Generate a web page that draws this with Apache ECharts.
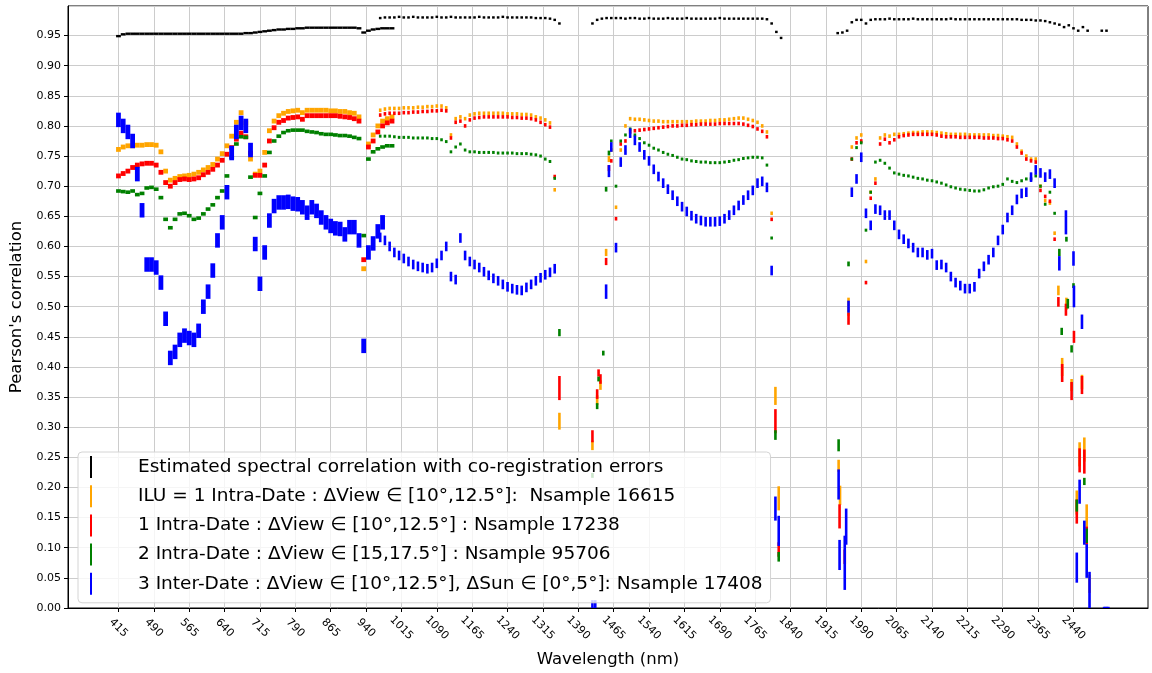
<!DOCTYPE html>
<html>
<head>
<meta charset="utf-8">
<title>Spectral correlation</title>
<script src="https://cdn.jsdelivr.net/npm/echarts@6/dist/echarts.min.js"></script>
<style>
  html, body { margin: 0; padding: 0; background: #fff; }
  #chart { width: 1152px; height: 673px; }
</style>
</head>
<body>
<div id="chart"></div>
<script>
// ---- data ------------------------------------------------------------
var seriesNames = [
  'Estimated spectral correlation with co-registration errors',
  'ILU = 1 Intra-Date : \u0394View \u2208 [10\u00b0,12.5\u00b0]:  Nsample 16615',
  '1 Intra-Date : \u0394View \u2208 [10\u00b0,12.5\u00b0] : Nsample 17238',
  '2 Intra-Date : \u0394View \u2208 [15,17.5\u00b0] : Nsample 95706',
  '3 Inter-Date : \u0394View \u2208 [10\u00b0,12.5\u00b0], \u0394Sun \u2208 [0\u00b0,5\u00b0]: Nsample 17408'
];
var xTicks = [415, 490, 565, 640, 715, 790, 865, 940, 1015, 1090, 1165, 1240, 1315, 1390,
  1465, 1540, 1615, 1690, 1765, 1840, 1915, 1990, 2065, 2140, 2215, 2290, 2365, 2440];

// VNIR detector: one value every 10 nm from 415 to 995 nm
var vnirStart = 415, vnirStep = 10;
var vnirBlack = [
  .949, .952, .953, .953, .953, .953, .953, .953, .953, .953,
  .953, .953, .953, .953, .953, .953, .953, .953, .953, .953,
  .953, .953, .953, .953, .953, .953, .953, .954, .954, .955,
  .956, .957, .958, .959, .960, .960, .961, .961, .962, .962,
  .963, .963, .963, .963, .963, .963, .963, .963, .963, .963,
  .963, .962, .955, .958, .960, .961, .962, .962, .962
];
var vnirOrange = [
  .761, .765, .767, .767, .768, .768, .769, .769, .768, .757,
  .725, .710, .713, .716, .717, .718, .720, .723, .727, .731,
  .736, .745, .754, .767, .783, .806, .822, .805, .745, .720,
  .725, .756, .792, .808, .817, .821, .824, .825, .826, .822,
  .826, .826, .826, .826, .826, .825, .825, .824, .824, .822,
  .821, .815, .563, .770, .785, .800, .808, .812, .815
];
var vnirRed = [
  .717, .721, .725, .731, .735, .737, .738, .738, .735, .723,
  .706, .700, .706, .711, .712, .711, .712, .714, .719, .723,
  .728, .735, .743, .753, .764, .778, .788, .782, .755, .718,
  .718, .735, .775, .797, .806, .809, .813, .814, .815, .811,
  .817, .817, .817, .817, .817, .817, .817, .816, .815, .814,
  .812, .808, .578, .765, .775, .790, .800, .805, .808
];
var vnirGreen = [
  .692, .691, .690, .692, .686, .688, .697, .698, .695, .681,
  .645, .631, .645, .654, .655, .651, .645, .647, .654, .662,
  .669, .681, .692, .717, .748, .770, .782, .781, .715, .648,
  .688, .717, .756, .775, .783, .789, .792, .793, .793, .793,
  .791, .790, .789, .787, .786, .786, .785, .784, .784, .783,
  .781, .779, .618, .745, .757, .762, .765, .767, .767
];
var vnirBlue = [
  .810, .800, .790, .775, .720, .660, .570, .570, .565, .540,
  .480, .415, .425, .445, .452, .448, .445, .460, .500, .525,
  .560, .610, .640, .690, .755, .790, .805, .800, .760, .604,
  .538, .590, .643, .667, .673, .673, .674, .671, .670, .665,
  .656, .665, .659, .648, .640, .634, .630, .629, .620, .632,
  .632, .610, .435, .590, .605, .625, .640, '-', '-'
];

// SWIR detector: one value every 10 nm from 970 to 2520 nm ('-' = no data)
var swirStart = 970, swirStep = 10;
var swirBlack = [
  /*  970 */ .979, .980, .980, .980, .981, .980, .980, .981, .980, .980,
  /* 1070 */ .980, .980, .981, .980, .980, .981, .980, .980, .980, .980,
  /* 1170 */ .980, .981, .980, .980, .980, .980, .981, .980, .980, .980,
  /* 1270 */ .980, .980, .980, .979, .979, .979, .978, .976, .970, '-',
  /* 1370 */ '-', '-', '-', '-', '-', .970, .976, .978, .979, .979,
  /* 1470 */ .979, .979, .978, .979, .979, .978, .978, .979, .978, .978,
  /* 1570 */ .978, .979, .978, .978, .978, .979, .978, .978, .978, .978,
  /* 1670 */ .978, .978, .979, .978, .978, .978, .978, .978, .978, .978,
  /* 1770 */ .978, .978, .977, .970, .956, .946, '-', '-', '-', '-',
  /* 1870 */ '-', '-', '-', '-', '-', '-', '-', .954, .955, .958,
  /* 1970 */ .972, .976, .976, .970, .976, .977, .977, .977, .978, .977,
  /* 2070 */ .977, .977, .977, .978, .977, .977, .977, .977, .977, .977,
  /* 2170 */ .977, .978, .977, .977, .977, .977, .977, .977, .977, .977,
  /* 2270 */ .977, .977, .977, .977, .977, .977, .976, .976, .976, .975,
  /* 2370 */ .975, .974, .972, .970, .968, .964, .967, .962, .958, .964,
  /* 2470 */ .958, '-', '-', .958, .958, '-'
];
var swirOrange = [
  /*  970 */ .826, .828, .829, .829, .829, .830, .830, .830, .831, .831,
  /* 1070 */ .832, .832, .833, .833, .830, .785, .812, .815, .812, .818,
  /* 1170 */ .820, .821, .821, .821, .821, .821, .821, .820, .820, .820,
  /* 1270 */ .819, .819, .818, .815, .813, .810, .805, .694, '-', '-',
  /* 1370 */ '-', '-', '-', '-', '-', '-', '-', '-', '-', .760,
  /* 1470 */ .665, .760, .800, .812, .811, .811, .810, .809, .808, .808,
  /* 1570 */ .807, .807, .807, .807, .807, .807, .807, .808, .808, .808,
  /* 1670 */ .809, .809, .810, .810, .811, .812, .813, .813, .811, .809,
  /* 1770 */ .806, .800, .790, .655, '-', '-', '-', '-', '-', '-',
  /* 1870 */ '-', '-', '-', '-', '-', '-', '-', '-', '-', '-',
  /* 1970 */ .765, .780, .785, .575, .690, .712, .780, .785, .783, .786,
  /* 2070 */ .786, .787, .788, .789, .789, .790, .790, .790, .789, .788,
  /* 2170 */ .787, .786, .786, .786, .786, .785, .785, .785, .785, .785,
  /* 2270 */ .784, .784, .783, .782, .781, .770, .758, .750, .745, .745,
  /* 2370 */ .700, .676, .672, .622, '-', '-', '-', '-', '-', '-',
  /* 2470 */ '-', '-', '-', '-', '-', '-'
];
var swirRed = [
  /*  970 */ .818, .820, .821, .821, .821, .822, .822, .823, .823, .824,
  /* 1070 */ .824, .825, .825, .826, .825, .780, .806, .808, .800, .810,
  /* 1170 */ .813, .814, .815, .815, .815, .815, .815, .815, .814, .814,
  /* 1270 */ .813, .813, .812, .810, .806, .802, .798, .716, '-', '-',
  /* 1370 */ '-', '-', '-', '-', '-', '-', '-', '-', '-', .742,
  /* 1470 */ .646, .770, .775, .790, .792, .793, .794, .795, .796, .797,
  /* 1570 */ .798, .799, .800, .800, .801, .801, .802, .802, .803, .803,
  /* 1670 */ .803, .803, .804, .804, .804, .804, .804, .803, .801, .799,
  /* 1770 */ .795, .791, .782, .645, '-', '-', '-', '-', '-', '-',
  /* 1870 */ '-', '-', '-', '-', '-', '-', '-', '-', '-', '-',
  /* 1970 */ .745, .772, .775, .540, .680, .705, .770, .778, .772, .777,
  /* 2070 */ .782, .784, .785, .786, .786, .786, .786, .786, .785, .783,
  /* 2170 */ .782, .782, .782, .781, .781, .781, .781, .781, .780, .780,
  /* 2270 */ .780, .779, .779, .777, .775, .765, .755, .745, .742, .740,
  /* 2370 */ .693, .683, .675, .612, '-', '-', '-', '-', '-', '-',
  /* 2470 */ '-', '-', '-', '-', '-', '-'
];
var swirGreen = [
  /*  970 */ .783, .783, .783, .782, .781, .781, .781, .780, .780, .780,
  /* 1070 */ .780, .779, .779, .777, .774, .757, .765, .770, .760, .757,
  /* 1170 */ .757, .756, .756, .756, .756, .755, .755, .755, .755, .754,
  /* 1270 */ .754, .754, .753, .752, .750, .745, .741, .713, '-', '-',
  /* 1370 */ '-', '-', '-', '-', '-', '-', '-', '-', '-', .775,
  /* 1470 */ .700, .775, .785, .795, .785, .779, .772, .768, .763, .760,
  /* 1570 */ .756, .753, .751, .748, .745, .744, .742, .741, .740, .740,
  /* 1670 */ .739, .739, .739, .740, .741, .743, .744, .746, .747, .748,
  /* 1770 */ .748, .747, .735, .614, '-', '-', '-', '-', '-', '-',
  /* 1870 */ '-', '-', '-', '-', '-', '-', '-', '-', '-', '-',
  /* 1970 */ .745, .764, .772, .627, .690, .740, .743, .738, .730, .722,
  /* 2070 */ .720, .718, .717, .715, .713, .712, .710, .709, .707, .705,
  /* 2170 */ .702, .699, .697, .695, .694, .693, .692, .692, .694, .697,
  /* 2270 */ .699, .700, .703, .712, .708, .706, .709, .712, .712, .717,
  /* 2370 */ .700, .670, .690, .655, '-', '-', '-', '-', '-', '-',
  /* 2470 */ '-', '-', '-', '-', '-', '-'
];
var swirBlue = [
  /*  970 */ .615, .610, .600, .590, .585, .580, .575, .570, .567, .565,
  /* 1070 */ .563, .565, .572, .585, .600, .550, .545, .614, .585, .575,
  /* 1170 */ .570, .565, .558, .552, .547, .543, .537, .533, .530, .528,
  /* 1270 */ .527, .532, .537, .543, .548, .553, .557, .563, '-', '-',
  /* 1370 */ '-', '-', '-', '-', '-', '-', '-', '-', '-', .765,
  /* 1470 */ .598, .740, .760, .788, .776, .765, .752, .742, .728, .716,
  /* 1570 */ .705, .695, .685, .675, .666, .658, .651, .646, .643, .641,
  /* 1670 */ .641, .641, .642, .646, .652, .660, .668, .677, .685, .693,
  /* 1770 */ .705, .708, .698, .560, '-', '-', '-', '-', '-', '-',
  /* 1870 */ '-', '-', '-', '-', '-', '-', '-', '-', '-', '-',
  /* 1970 */ .690, .712, .748, .655, .635, .662, .660, .652, .652, .635,
  /* 2070 */ .620, .612, .605, .598, .590, .590, .586, .588, .569, .570,
  /* 2170 */ .565, .550, .540, .535, .530, .530, .533, .555, .567, .578,
  /* 2270 */ .590, .610, .628, .648, .660, .678, .688, .690, .715, .727,
  /* 2370 */ .722, .715, .720, .705, '-', '-', '-', '-', '-', '-',
  /* 2470 */ '-', '-', '-', '-', '-', '-'
];

// half length of the error bars on the regular grids (black, orange, red, green, blue)
var vnirHalf = [0.0012, 0.004, 0.004, 0.003, 0.012];
var swirHalf = [0.0012, 0.003, 0.003, 0.0025, 0.008];

// scattered samples at the edges of the water bands: [nm, r, half bar]
var edgeOrange = [
  [1350, .310, .014], [1420, .270, .008], [1430, .345, .008], [1437, .370, .008], [1449, .590, .006], [1455, .745, .005],
  [1808, .352, .015], [1815, .182, .02],
  [1942, .236, .01], [1945, .187, .016], [1963, .500, .015],
  [2408, .527, .008], [2416, .400, .015], [2425, .505, .01], [2436, .370, .01], [2447, .175, .02], [2453, .255, .02],
  [2458, .375, .012], [2463, .263, .02], [2468, .152, .02], [2474, .040, .015]
];
var edgeRed = [
  [1350, .365, .02], [1420, .285, .01], [1430, .355, .008], [1433, .390, .006], [1437, .380, .008], [1449, .575, .006], [1455, .730, .005],
  [1808, .310, .02], [1815, .097, .012],
  [1944, .152, .02], [1955, .085, .012], [1963, .480, .01],
  [2408, .508, .008], [2416, .390, .015], [2424, .495, .01], [2436, .360, .015], [2441, .450, .01], [2447, .160, .02],
  [2453, .245, .02], [2458, .370, .015], [2463, .243, .02], [2468, .120, .015]
];
var edgeGreen = [
  [1350, .457, .006], [1420, .220, .004], [1430, .335, .005], [1433, .380, .004], [1443, .423, .004], [1449, .695, .004], [1455, .755, .004],
  [1808, .287, .008], [1815, .085, .008],
  [1942, .270, .01], [1963, .571, .004],
  [2410, .590, .006], [2415, .459, .006], [2425, .612, .004], [2428, .505, .008], [2436, .430, .006], [2440, .535, .004],
  [2447, .170, .01], [2463, .210, .006], [2468, .120, .012]
];
var edgeBlue = [
  [1420, .005, .008], [1426, .005, .008], [1449, .525, .012], [1455, .725, .01],
  [1808, .165, .02], [1815, .128, .025],
  [1942, .205, .025], [1944, .088, .025], [1955, .075, .045], [1958, .135, .03], [1963, .500, .01],
  [2410, .572, .012], [2424, .640, .02], [2440, .580, .012], [2441, .517, .018], [2447, .067, .025], [2453, .193, .02],
  [2458, .475, .012], [2463, .125, .02], [2468, .078, .028], [2474, .030, .03],
  [2505, 0, .0005], [2508, 0, .0005], [2511, 0, .0005], [2514, 0, .0005]
];

// ---- chart -----------------------------------------------------------
var FONT = "'DejaVu Sans', sans-serif";
var colors = ['#000000', '#ffa500', '#ff0000', '#008000', '#0000ff'];
var X_MIN = 308, X_MAX = 2598;

// rows of [nm, r, half, detector]  detector: 0 = VNIR, 1 = SWIR / edge
function grid(start, step, vals, half, det) {
  var out = [];
  vals.forEach(function (v, i) {
    if (v !== '-') out.push([start + i * step, v, half, det]);
  });
  return out;
}
function edges(list) {
  return list.map(function (p) { return [p[0], p[1], p[2], 1]; });
}

var vnir = [vnirBlack, vnirOrange, vnirRed, vnirGreen, vnirBlue];
var swir = [swirBlack, swirOrange, swirRed, swirGreen, swirBlue];
var edge = [[], edgeOrange, edgeRed, edgeGreen, edgeBlue];

function renderBar(params, api) {
  var nm = api.value(0), r = api.value(1), half = api.value(2);
  var w = api.value(3) === 0 ? 4.8 : 2.6;
  var top = api.coord([nm, r + half]);
  var bot = api.coord([nm, r - half]);
  var h = Math.max(bot[1] - top[1], 2.4);
  var cy = (top[1] + bot[1]) / 2;
  return {
    type: 'rect',
    shape: { x: top[0] - w / 2, y: cy - h / 2, width: w, height: h },
    style: { fill: api.visual('color') }
  };
}

var series = seriesNames.map(function (name, k) {
  var data = grid(vnirStart, vnirStep, vnir[k], vnirHalf[k], 0)
    .concat(grid(swirStart, swirStep, swir[k], swirHalf[k], 1))
    .concat(edges(edge[k]));
  return {
    name: name,
    type: 'custom',
    renderItem: renderBar,
    clip: true,
    itemStyle: { color: colors[k] },
    encode: { x: 0, y: 1 },
    data: data
  };
});

// an empty second grid only carries the vertical grid lines at 415 + 75k nm
// (340 .. 2441 nm, placed so that both grids share the same nm -> px scale)
var pxPerNm = 1080 / (X_MAX - X_MIN);
var grid2Left = 68 + (340 - X_MIN) * pxPerNm;
var grid2Width = (2441 - 340) * pxPerNm;

var chart = echarts.init(document.getElementById('chart'), null, { renderer: 'canvas' });
chart.setOption({
  animation: false,
  backgroundColor: '#ffffff',
  textStyle: { fontFamily: FONT },
  grid: [
    { left: 68, top: 6, width: 1080, height: 604,
      show: true, borderColor: '#000', borderWidth: 1, backgroundColor: 'transparent' },
    { left: grid2Left, top: 6, width: grid2Width, height: 604, show: false }
  ],
  legend: {
    orient: 'vertical',
    left: 78,
    top: 452,
    padding: [4, 8, 8, 12],
    itemGap: 7.2,
    itemWidth: 2,
    itemHeight: 22,
    icon: 'rect',
    selectedMode: false,
    backgroundColor: 'rgba(255,255,255,0.8)',
    borderColor: '#d4d4d4',
    borderWidth: 1,
    borderRadius: 4,
    textStyle: { fontFamily: FONT, fontSize: 18.5, color: '#000', padding: [0, 0, 0, 41] },
    data: seriesNames
  },
  xAxis: [{
    type: 'value',
    min: X_MIN,
    max: X_MAX,
    name: 'Wavelength (nm)',
    nameLocation: 'middle',
    nameGap: 43,
    nameTextStyle: { fontFamily: FONT, fontSize: 16.5, color: '#000' },
    axisLine: { show: true, lineStyle: { color: '#000', width: 1 } },
    axisTick: { show: true, customValues: xTicks, length: 4, lineStyle: { color: '#000' } },
    axisLabel: {
      customValues: xTicks,
      rotate: -45,
      align: 'center',
      verticalAlign: 'middle',
      margin: 20,
      fontFamily: FONT,
      fontSize: 11,
      color: '#000',
      formatter: function (v) { return String(v); }
    },
    splitLine: { show: false }
  }, {
    type: 'value',
    gridIndex: 1,
    min: 340,
    max: 2441,
    interval: 75,
    axisLine: { show: false },
    axisTick: { show: false },
    axisLabel: { show: false },
    splitLine: { show: true, showMinLine: false, showMaxLine: false,
      lineStyle: { color: '#cccccc', width: 1 } }
  }],
  yAxis: [{
    type: 'value',
    min: 0,
    max: 0.999,
    interval: 0.05,
    name: "Pearson's correlation",
    nameLocation: 'middle',
    nameGap: 40,
    nameTextStyle: { fontFamily: FONT, fontSize: 16.5, color: '#000' },
    axisLine: { show: true, lineStyle: { color: '#000', width: 1 } },
    axisTick: { show: true, length: 4, lineStyle: { color: '#000' } },
    axisLabel: {
      margin: 7,
      fontFamily: FONT,
      fontSize: 11,
      color: '#000',
      showMaxLabel: false,
      formatter: function (v) { return v.toFixed(2); }
    },
    splitLine: { show: true, lineStyle: { color: '#cccccc', width: 1 } }
  }, {
    type: 'value',
    gridIndex: 1,
    min: 0,
    max: 0.999,
    show: false
  }],
  series: series
});
window.addEventListener('resize', function () { chart.resize(); });
</script>
</body>
</html>
